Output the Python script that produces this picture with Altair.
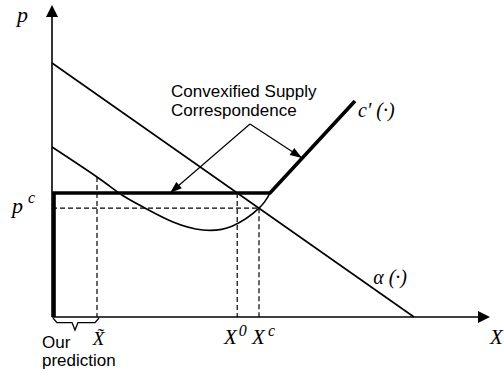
import math
import altair as alt
import pandas as pd

# Demand curve alpha(.): price intercept and quantity intercept
ALPHA_P_INTERCEPT = 6.35
ALPHA_X_INTERCEPT = 9.05
# Convexified price, clearing price and the marked quantities
P_C = 3.1
P_CLEAR = 2.72
X_TILDE = 1.125
X_TILDE_P = 3.5
X_0 = 4.63
X_C = 5.175
# Marginal cost c'(.): kink on the p^c line and upper end of the drawn branch
MC_KINK = [5.45, 3.1]
MC_END = [7.575, 5.4]
# U-shaped cost curve below the convexified supply
U_X = [0.0, 1.125, 1.75, 2.275, 3.025, 3.775, 4.5, 5.175, 5.45]
U_Y = [4.25, 3.5, 3.05, 2.75, 2.375, 2.175, 2.27, 2.72, 3.1]
# Axis extents
X_AXIS_END = 10.95
P_AXIS_END = 7.8
# Callout: knee of the two arrows and their tips
CALLOUT_KNEE = [4.95, 4.825]
CALLOUT_TIPS = [[2.95, 3.1], [6.25, 3.975]]
# Brace under the axis, "Our prediction"
BRACE_X = [0.025, 0.125, 0.5, 0.575, 0.65, 1.075, 1.175]
BRACE_Y = [-0.025, -0.14, -0.14, -0.325, -0.14, -0.14, -0.025]

W, H = 504, 374
xs = alt.Scale(domain=[-1.3, 11.3], nice=False, zero=False)
ys = alt.Scale(domain=[-1.425, 7.925], nice=False, zero=False)
X = lambda f="x": alt.X(f"{f}:Q", scale=xs, axis=None)
Y = lambda f="y": alt.Y(f"{f}:Q", scale=ys, axis=None)

SERIF = "Liberation Serif"
SANS = "Liberation Sans"
INK = "#000000"


def segments(rows, **mark):
    df = pd.DataFrame(rows, columns=["x", "y", "x2", "y2"])
    return alt.Chart(df).mark_rule(color=INK, **mark).encode(
        x=X(), y=Y(), x2="x2:Q", y2="y2:Q"
    )


def polyline(xv, yv, **mark):
    df = pd.DataFrame({"x": xv, "y": yv, "i": range(len(xv))})
    return alt.Chart(df).mark_line(color=INK, **mark).encode(
        x=X(), y=Y(), order="i:Q"
    )


def heading(dx, dy):
    # clockwise rotation of an upward-pointing head
    return math.degrees(math.atan2(dx, dy)) % 360


def heads(rows, path, size):
    df = pd.DataFrame(rows, columns=["x", "y", "a"])
    return alt.Chart(df).mark_point(
        shape=path, filled=True, color=INK, opacity=1, strokeWidth=0, size=size
    ).encode(x=X(), y=Y(), angle=alt.Angle("a:Q", scale=None))


def label(x, y, text, font=SERIF, size=20, style="italic", align="left"):
    df = pd.DataFrame({"x": [x], "y": [y], "t": [text]})
    return alt.Chart(df).mark_text(
        align=align, baseline="alphabetic", font=font, fontSize=size,
        fontStyle=style, color=INK
    ).encode(x=X(), y=Y(), text="t:N")


axes = segments(
    [[0, 0, X_AXIS_END - 0.2, 0], [0, 0, 0, P_AXIS_END - 0.2]], strokeWidth=1.6
)
axis_heads = heads(
    [[X_AXIS_END, 0, 90.0], [0, P_AXIS_END, 0.0]], "M0,0L-0.5,1L0.5,1Z", 576
)

demand = segments(
    [[0, ALPHA_P_INTERCEPT, ALPHA_X_INTERCEPT, 0]], strokeWidth=1.6
)

u_curve = polyline(U_X, U_Y, strokeWidth=1.6, interpolate="natural")

guides = segments(
    [
        [0, P_CLEAR, X_C, P_CLEAR],
        [X_TILDE, X_TILDE_P, X_TILDE, 0],
        [X_0, P_C, X_0, 0],
        [X_C, P_CLEAR, X_C, 0],
    ],
    strokeWidth=1.2,
    strokeDash=[5, 3],
)

supply = polyline(
    [0.05, 0.05, MC_KINK[0], MC_END[0]],
    [0, P_C, MC_KINK[1], MC_END[1]],
    strokeWidth=3.6,
    strokeJoin="miter",
    strokeCap="butt",
)

callout = segments(
    [[CALLOUT_KNEE[0], CALLOUT_KNEE[1], tx, ty] for tx, ty in CALLOUT_TIPS],
    strokeWidth=1.2,
)
callout_heads = heads(
    [
        [tx, ty, heading(tx - CALLOUT_KNEE[0], ty - CALLOUT_KNEE[1])]
        for tx, ty in CALLOUT_TIPS
    ],
    "M0,0L-0.35,1L0.35,1Z",
    576,
)

brace = polyline(BRACE_X, BRACE_Y, strokeWidth=1.3)

texts = [
    label(-0.875, 7.375, "p", size=22),
    label(-1.0, 2.6, "p", size=22),
    label(-0.6, 2.85, "c", size=16),
    label(1.02, -0.7, "X\u0303", size=19),
    label(4.3, -0.68, "X", size=21),
    label(4.67, -0.48, "0", size=16),
    label(5.0, -0.68, "X", size=21),
    label(5.4, -0.48, "c", size=16),
    label(10.95, -0.68, "X", size=21),
    label(8.03, 0.82, "α (·)", size=20),
    label(7.65, 5.0, "c′ (·)", size=20),
    label(2.975, 5.5, "Convexified Supply", font=SANS, size=17, style="normal"),
    label(2.975, 5.025, "Correspondence", font=SANS, size=17, style="normal"),
    label(-0.25, -0.775, "Our", font=SANS, size=17, style="normal"),
    label(-0.25, -1.225, "prediction", font=SANS, size=17, style="normal"),
]

chart = (
    alt.layer(
        guides, demand, u_curve, axes, axis_heads, supply, callout,
        callout_heads, brace, *texts
    )
    .properties(width=W, height=H, padding=0, autosize=alt.AutoSizeParams(type="none"),
                background="white")
    .configure_view(stroke=None)
)

chart.save("out.html", embed_options={"renderer": "svg", "actions": False})
